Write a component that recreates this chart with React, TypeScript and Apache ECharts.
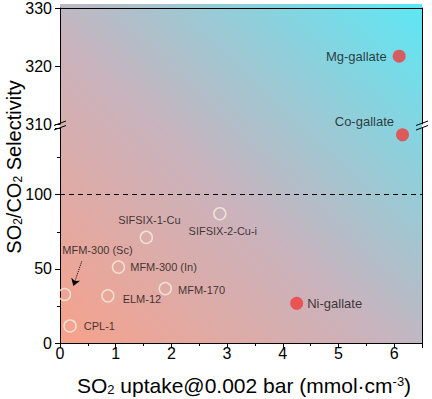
import React, { useEffect, useRef } from 'react';
import * as echarts from 'echarts';

const FONT = 'Arial, "Liberation Sans", Helvetica, sans-serif';

// Reference-material points (open circles), lower y segment
const openNames = ['CPL-1', 'MFM-300 (Sc)', 'ELM-12', 'MFM-300 (In)', 'SIFSIX-1-Cu', 'MFM-170', 'SIFSIX-2-Cu-i'];
const openX = [0.18, 0.08, 0.86, 1.05, 1.55, 1.89, 2.87];
const openY = [11.5, 32.7, 31.8, 51.2, 71.2, 36.7, 87.2];

// Gallate points (filled red)
const lowNames = ['Ni-gallate', 'Co-gallate'];
const lowX = [4.25, 6.15];
const lowY = [26.8, 140.4];
const highNames = ['Mg-gallate'];
const highX = [6.09];
const highY = [321.7];

// Axis ranges
const xRange = [0, 6.5];
const lowRange = [0, 145];
const highRange = [310, 330];
const thresholdY = 100;
// arrow annotation pointing to MFM-300 (Sc): [x, y] start, end
const arrowFrom = [0.39, 55];
const arrowTo = [0.24, 38.5];

const openLabelStyle: Record<string, any> = {
  'CPL-1': { position: 'right', distance: 7 },
  'MFM-300 (Sc)': { position: 'inside', offset: [33, -45] },
  'ELM-12': { position: 'right', distance: 8, offset: [0, 3] },
  'MFM-300 (In)': { position: 'right', distance: 5 },
  'SIFSIX-1-Cu': { position: 'top', distance: 5, offset: [3, 0] },
  'MFM-170': { position: 'right', distance: 6, offset: [0, 1] },
  'SIFSIX-2-Cu-i': { position: 'bottom', distance: 5, offset: [3, 0] },
};
const redLabelStyle: Record<string, any> = {
  'Mg-gallate': { position: 'left', distance: 6 },
  'Co-gallate': { position: 'left', distance: 2, offset: [0, -13] },
  'Ni-gallate': { position: 'right', distance: 4 },
};

const GL = 60, GR = 10;
const TOP_T = 4, TOP_H = 120;
const LOW_T = 128, LOW_H = 215;

export default function App() {
  const ref = useRef<HTMLDivElement>(null);
  useEffect(() => {
    if (!ref.current) return;
    const chart = echarts.init(ref.current, null, { renderer: 'svg' });
    const axisLine = { show: true, lineStyle: { color: '#000', width: 1 } };
    const tickLbl = { color: '#000', fontSize: 16, fontFamily: FONT };
    const mkPts = (names: string[], xs: number[], ys: number[], styles: Record<string, any>, size: number) =>
      names.map((n, i) => ({
        name: n,
        value: [xs[i], ys[i]],
        label: { show: true, formatter: n, color: '#111', fontSize: size, fontFamily: FONT, ...styles[n] },
      }));
    const redStyle = { color: '#f03c3c' };
    const gradient = new echarts.graphic.LinearGradient(0, 1, 1, 0, [
      { offset: 0, color: '#f7a18b' },
      { offset: 0.45, color: '#c9b3bd' },
      { offset: 1, color: '#5de7f4' },
    ]);
    const plotW = 432 - GL - GR;
    const brk = (x: number) => [
      { type: 'line', z: 50, shape: { x1: x - 6, y1: 125.5, x2: x + 6, y2: 121 }, style: { stroke: '#000', lineWidth: 1 } },
      { type: 'line', z: 50, shape: { x1: x - 6, y1: 130, x2: x + 6, y2: 125.5 }, style: { stroke: '#000', lineWidth: 1 } },
    ];
    chart.setOption({
      animation: false,
      grid: [
        { left: GL, right: GR, top: TOP_T, height: TOP_H, containLabel: false },
        { left: GL, right: GR, top: LOW_T, height: LOW_H, containLabel: false },
      ],
      xAxis: [
        { gridIndex: 0, type: 'value', position: 'top', min: xRange[0], max: xRange[1], axisLine, axisTick: { show: false }, axisLabel: { show: false }, splitLine: { show: false } },
        {
          gridIndex: 1, type: 'value', position: 'bottom', min: xRange[0], max: xRange[1], interval: 1,
          axisLine, axisTick: { show: true, inside: false, length: 5, lineStyle: { color: '#000' } },
          minorTick: { show: true, splitNumber: 2, length: 3, lineStyle: { color: '#000' } },
          axisLabel: { ...tickLbl, margin: 2, showMaxLabel: false }, splitLine: { show: false }, minorSplitLine: { show: false },
        },
      ],
      yAxis: [
        {
          gridIndex: 0, type: 'value', position: 'left', min: highRange[0], max: highRange[1], interval: 10,
          axisLine, axisTick: { show: true, length: 5, lineStyle: { color: '#000' } },
          axisLabel: { ...tickLbl, margin: 8 }, splitLine: { show: false },
        },
        { gridIndex: 0, type: 'value', position: 'right', min: highRange[0], max: highRange[1], axisLine, axisTick: { show: false }, axisLabel: { show: false }, splitLine: { show: false } },
        {
          gridIndex: 1, type: 'value', position: 'left', min: lowRange[0], max: lowRange[1], interval: 50,
          axisLine, axisTick: { show: true, length: 5, lineStyle: { color: '#000' } },
          minorTick: { show: true, splitNumber: 2, length: 3, lineStyle: { color: '#000' } },
          axisLabel: { ...tickLbl, margin: 8, showMaxLabel: false }, splitLine: { show: false }, minorSplitLine: { show: false },
        },
        { gridIndex: 1, type: 'value', position: 'right', min: lowRange[0], max: lowRange[1], axisLine, axisTick: { show: false }, axisLabel: { show: false }, splitLine: { show: false } },
      ],
      graphic: [
        { type: 'rect', z: -10, silent: true, shape: { x: GL, y: TOP_T, width: plotW, height: LOW_T + LOW_H - TOP_T }, style: { fill: gradient } },
        ...brk(GL),
        ...brk(GL + plotW),
        {
          type: 'text', x: 14, y: 167, rotation: Math.PI / 2, z: 50,
          style: {
            text: '{n|SO}{s|2}{n|/CO}{s|2}{n| Selectivity}',
            align: 'center', verticalAlign: 'middle', textAlign: 'center', textVerticalAlign: 'middle',
            fill: '#000',
            rich: {
              n: { fontSize: 20, fontFamily: FONT, fill: '#000', color: '#000' },
              s: { fontSize: 12, fontFamily: FONT, fill: '#000', color: '#000', verticalAlign: 'bottom', padding: [8, 0, 0, 0] },
            },
          },
        },
        {
          type: 'text', x: 244, y: 385, z: 50,
          style: {
            text: '{n|SO}{s|2}{n| uptake@0.002 bar (mmol·cm}{p|-3}{n|)}',
            align: 'center', verticalAlign: 'middle', textAlign: 'center', textVerticalAlign: 'middle',
            fill: '#000',
            rich: {
              n: { fontSize: 21, fontFamily: FONT, fill: '#000', color: '#000' },
              s: { fontSize: 13, fontFamily: FONT, fill: '#000', color: '#000', verticalAlign: 'bottom', padding: [8, 0, 0, 0] },
              p: { fontSize: 13, fontFamily: FONT, fill: '#000', color: '#000', verticalAlign: 'top', padding: [0, 0, 8, 0] },
            },
          },
        },
      ],
      series: [
        {
          type: 'scatter', xAxisIndex: 1, yAxisIndex: 2, symbol: 'circle', symbolSize: 12,
          itemStyle: { color: 'rgba(0,0,0,0)', borderColor: '#f3efdf', borderWidth: 1.5 },
          data: mkPts(openNames, openX, openY, openLabelStyle, 11),
          markLine: {
            silent: true, animation: false,
            label: { show: false },
            lineStyle: { color: '#000', type: 'dotted', width: 1 },
            symbol: ['none', 'arrow'], symbolSize: 7,
            data: [[{ coord: arrowFrom }, { coord: arrowTo }]],
          },
        },
        {
          type: 'scatter', xAxisIndex: 1, yAxisIndex: 2, symbol: 'circle', symbolSize: 13,
          itemStyle: redStyle,
          data: mkPts(lowNames, lowX, lowY, redLabelStyle, 13),
          markLine: {
            silent: true, animation: false, symbol: ['none', 'none'],
            label: { show: false },
            lineStyle: { color: '#000', type: [5, 4], width: 1 },
            data: [{ yAxis: thresholdY }],
          },
        },
        {
          type: 'scatter', xAxisIndex: 0, yAxisIndex: 0, symbol: 'circle', symbolSize: 13,
          itemStyle: redStyle,
          data: mkPts(highNames, highX, highY, redLabelStyle, 13),
        },
      ],
    });
    return () => chart.dispose();
  }, []);
  return <div ref={ref} style={{ position: 'absolute', left: 0, top: 0, width: 432, height: 399 }} />;
}
